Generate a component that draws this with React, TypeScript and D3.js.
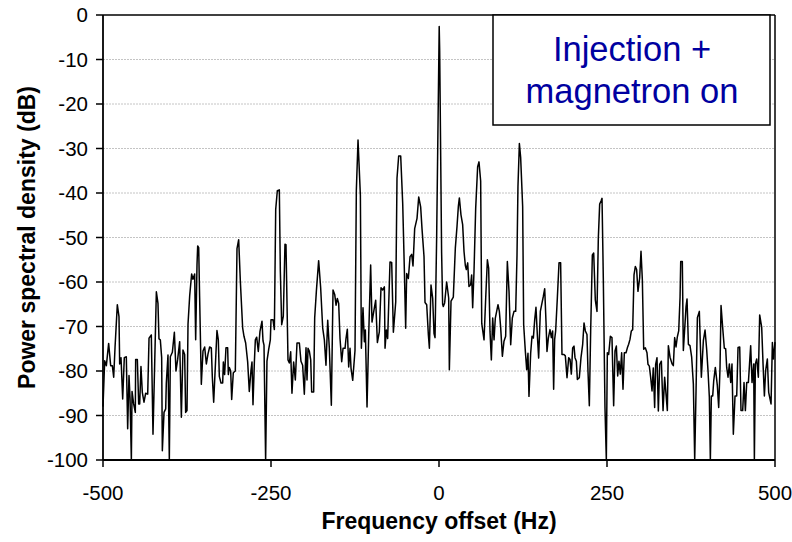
import React from "react";
import * as d3 from "d3";

const xTicks = [-500, -250, 0, 250, 500];
const yTicks = [0, -10, -20, -30, -40, -50, -60, -70, -80, -90, -100];
const legendLines = ["Injection +", "magnetron on"];
const xTitle = "Frequency offset (Hz)";
const yTitle = "Power spectral density (dB)";

// [frequency offset (Hz), power spectral density (dB)]
const spectrum: [number, number][] = [
  [-500, -88], [-497.5, -77.7], [-495, -78.8], [-491.6, -73.8], [-488.6, -78.8], [-486.1, -78.8], [-484.1, -81.4], [-482.1, -74.7],
  [-478.7, -65.1], [-476.2, -67.8], [-475.2, -78.4], [-473.2, -77], [-470.7, -86.3], [-468.3, -77], [-465.3, -76.8], [-463.3, -93],
  [-461.3, -81], [-459.8, -86], [-457.8, -100], [-456.8, -84.6], [-454.4, -87.4], [-451.9, -89.3], [-451.4, -77.4], [-448.9, -77.4],
  [-446.9, -87.4], [-445.4, -87.4], [-443.5, -79], [-441.5, -84.8], [-439, -87], [-436.5, -85], [-433.5, -85.2], [-431.5, -72.6],
  [-428.1, -71.9], [-425.6, -94.2], [-423.1, -78.4], [-420.6, -62.2], [-418.2, -64.8], [-416.7, -72.8], [-414.7, -73], [-412.7, -77],
  [-411.7, -97.9], [-409.2, -89.3], [-406.7, -88.5], [-405.8, -82.8], [-403.3, -76.4], [-401.3, -100], [-399.8, -76.8], [-396.8, -75.8],
  [-393.8, -71.3], [-391.4, -80], [-388.9, -77.4], [-385.9, -73.4], [-383.4, -90.4], [-381, -75.3], [-378.5, -76.3], [-377, -89.3],
  [-375, -88.9], [-373.5, -69.5], [-371, -63.1], [-368.1, -58.2], [-366.1, -59.4], [-363.6, -58.2], [-362.1, -73], [-360.1, -56],
  [-359.1, -51.9], [-357.6, -52.3], [-356.2, -63.5], [-353.7, -83], [-351.2, -75.5], [-348.7, -74.6], [-346.2, -78.4], [-343.8, -76.2],
  [-341.3, -74.6], [-338.8, -74.8], [-337.3, -81.4], [-335.3, -87],
  [-330.4, -70.9], [-328.4, -73], [-326.9, -81.2], [-324.4, -82.7], [-321.9, -82.7], [-320.9, -78], [-319, -80.8], [-317, -74.8],
  [-314.5, -74.8], [-313.5, -80.8], [-312, -79.2], [-310, -80], [-308.5, -86.4], [-306.1, -80.4], [-303.1, -80], [-300.6, -52.5],
  [-298.1, -50.5], [-295.6, -59.9], [-292.2, -70.3], [-290.2, -72.2], [-287.7, -73.7], [-284.7, -78], [-282.3, -84.6], [-279.8, -79.9],
  [-278.3, -78], [-276.8, -87.6], [-274.8, -78.2], [-273.3, -73], [-271.3, -72.4], [-268.9, -75.6], [-266.4, -71.1], [-263.4, -68.8],
  [-261.9, -73.2], [-260.4, -74.2], [-258, -100], [-256, -77.8], [-253.5, -75.2], [-251, -73], [-250, -68.5], [-247, -68.5],
  [-245, -70.7], [-243, -43.7], [-240.6, -39.5], [-237.6, -39.3], [-236.1, -57.6], [-234.1, -69.6], [-231.7, -67.7], [-229.2, -51.5],
  [-227.7, -51.6], [-224.7, -77.5], [-222.7, -78.2], [-220.7, -75.7], [-218.8, -85], [-216.3, -78], [-213.8, -82], [-211.3, -73.7],
  [-207.8, -73.7], [-205.4, -77.8], [-202.9, -78.7], [-200.4, -85.2], [-197.9, -74.8], [-196.4, -82], [-194.9, -74.9], [-192.9, -75.6],
  [-190.9, -77.5], [-189.5, -84.7], [-186.5, -84.7], [-185, -68.1], [-182.5, -62.1], [-179.1, -55.2], [-176.1, -61.3], [-173.1, -70.3],
  [-170.6, -73], [-168.2, -78.7],
  [-165.6, -68.6], [-163.2, -74.9], [-160.2, -87.7], [-157.7, -61.8], [-155.2, -62.8], [-153.2, -65.2], [-151.3, -63.7], [-149.3, -64.8],
  [-147.3, -72.7], [-144.8, -77.9], [-142.8, -74.9], [-139.8, -74.9], [-138.4, -72.7], [-136.4, -70.6], [-134.4, -79.1], [-132.4, -74.9],
  [-130.9, -79.4], [-128.4, -82.1], [-125, -75.4], [-123, -39.4], [-120.5, -28.1], [-117, -40.5], [-115.5, -74.9], [-113.1, -65.8],
  [-111.1, -73.4], [-109.6, -70.8], [-107.1, -88.1], [-104.6, -71.9], [-101.7, -56.2], [-99.7, -69], [-97.2, -66.7], [-94.2, -64.1],
  [-91.7, -73.6], [-88.8, -71.2], [-86.3, -61.3], [-83.8, -61.8], [-81.3, -61.1], [-80.3, -74.9], [-78.3, -70.8], [-76.4, -72.7],
  [-72.9, -55.5], [-70.4, -55.6], [-67.9, -71.3], [-64.4, -64.5], [-62.5, -36.7], [-60, -31.7], [-57, -31.7], [-54, -42.4],
  [-51.6, -57], [-49.6, -70.4], [-48.1, -58.1], [-45.6, -59.2], [-43.1, -54.3], [-40.6, -53.8], [-38.7, -56.4], [-36.2, -48],
  [-32.7, -45.7], [-30.2, -40.9], [-27.3, -43.1], [-25.3, -48], [-22.3, -54.3], [-20.8, -64.6], [-18.3, -65.1], [-15.8, -71.9],
  [-14.3, -74.9], [-11.9, -60.7], [-9.4, -63.7], [-7.4, -71.6], [-5.9, -72.5], [-3.5, -50], [0.3, -2.6], [1, -8],
  [3.9, -53.5], [5.4, -65],
  [6.4, -65.5], [8.4, -64.7], [11.4, -60], [14.4, -63.6], [15.4, -79.7], [17.9, -64.3], [21.3, -63.4], [24.3, -52.4],
  [26.8, -47.5], [28.8, -43], [30.3, -41.1], [32.7, -44.9], [35.2, -47.1], [37.2, -53.1], [39.2, -56.3], [40.7, -57.2],
  [42.7, -55.7], [44.6, -61], [47.1, -60.6], [48.6, -58.4], [50.1, -65.8], [52.1, -57.6], [54.6, -43.4], [57.5, -34.1],
  [59.5, -33], [62, -37.3], [63.6, -69.3], [67, -73], [69.5, -63.6], [72, -55], [73.9, -56.9], [75.9, -71.1],
  [77.9, -77.5], [79.9, -68.1], [81.9, -73], [83.8, -68.1], [85.8, -66.6], [87.8, -65.1], [89.8, -66.6], [91.8, -70.3],
  [94.3, -76.7], [96.7, -73.3], [99.2, -72.2], [101.7, -55.4], [104.2, -62.1], [106.7, -74.1], [109.1, -68.1], [111.6, -66.6],
  [114.1, -66.6], [116.1, -53.9], [117.5, -38.6], [119.6, -28.9], [121.5, -32], [124.5, -43.1], [126, -69.6], [128.5, -75.6],
  [130.5, -79.7], [132.4, -76], [133.9, -85.7], [136.4, -76], [138.4, -72.2], [140.4, -72.6], [142.4, -68.5], [144.3, -65.7],
  [146.3, -71.8], [148.3, -77.1], [150.8, -66.6], [153.3, -64.7], [155.3, -63.2], [157.3, -61.5], [159.2, -68.8], [160.7, -75.6],
  [162.7, -72.6], [165.2, -70.7],
  [167.2, -72.5], [169.1, -71], [170.6, -84.1], [172.1, -72.9], [173.6, -71], [176.1, -63.6], [178.6, -55.7], [181, -55.7],
  [183, -76.3], [186, -76.3], [188, -76.6], [190.5, -81.5], [193, -77], [195, -77.4], [196.9, -80.7], [198.9, -74.8],
  [200.9, -74.4], [202.4, -77], [204.4, -77.8], [205.9, -81.9], [208.8, -81.5], [211.3, -77], [213.8, -74], [215.8, -69.2],
  [217.8, -71], [220.2, -71.8], [221.7, -80], [223.7, -87.8], [225.7, -71], [228.2, -53.9], [230.2, -53.5], [232.6, -64],
  [235.1, -66.6], [237.1, -50.1], [239.1, -42.5], [241.1, -41.8], [242.6, -41.2], [244.5, -59.1], [247, -88.2], [249, -100],
  [250.5, -75.9], [252.5, -76.3], [255, -72.2], [257.4, -72.5], [259.9, -87.8], [261.9, -75.5], [263.9, -74.4], [265.9, -81.1],
  [267.8, -77.8], [269.8, -80.7], [271.8, -75.9], [273.8, -84.1], [275.8, -75.9], [278.3, -75.9], [280.3, -74.8], [282.2, -74],
  [284.2, -72.9], [286.2, -71], [288.2, -70.7], [290.2, -58.4], [292.2, -56.5], [294.1, -57.2], [296.1, -62.1], [298.6, -59.1],
  [300.6, -53.1], [302.6, -59.5], [304.6, -75.1], [307, -74.8], [309.5, -75.9], [311, -78.5], [313, -78.9], [315, -81.5],
  [317, -84.5], [318.9, -79.3], [320.9, -88.2], [322.4, -78.5], [324.4, -77], [326.4, -89], [328.4, -78.5], [330.9, -77.8],
  [333.4, -88.9], [335.8, -81.4], [339.8, -88.9], [341.3, -74.3], [343.8, -76.9], [346.8, -78.4], [348.7, -78.8], [350.7, -72.5],
  [352.7, -74.6], [354.7, -72.3], [356.7, -71], [358.7, -63.5], [359.7, -55.4], [362.1, -55.4], [363.6, -75.4], [365.6, -70.6],
  [367.6, -65.6], [369.1, -63.8], [371.1, -74], [373.5, -74.3], [376, -76.9], [378.5, -82.9], [380.5, -100], [382.5, -84.4],
  [384.5, -68], [387.4, -66.6], [390.4, -81.4], [393.4, -73.2], [395.9, -70.8], [398.3, -75.1], [400.3, -79.9], [402.3, -85.9],
  [403.8, -100], [405.3, -85.6], [407.3, -85.6], [408.8, -82.2], [411.2, -79.2], [414.2, -83.3], [416.2, -88.2], [418.2, -79.2],
  [419.7, -65.3], [422.1, -70.2], [424.6, -74.9], [426.6, -75], [428.1, -79.2], [430.1, -81.4], [432.1, -78.4], [434.1, -82.6],
  [436, -78.4], [438, -94.2], [440.5, -85.6], [443, -85.6], [445, -74.7], [447.5, -74.6], [449.4, -88.9], [451.9, -88.9],
  [453.9, -82.6], [455.9, -88.9], [457.9, -82.6], [460.4, -82.6], [463.8, -74.3], [465.8, -82.6], [468.3, -78.4], [469.3, -100],
  [470.8, -78.4], [472.8, -77.3], [475.2, -81.4], [477.2, -67.4], [480.2, -70.2], [482.2, -78.4], [484.2, -85.6], [486.1, -79.9],
  [488.6, -77.3], [490.6, -84.8], [494.1, -87.4], [496.1, -73.6], [497.6, -77.3], [500, -73.5],
];

const W = 792;
const H = 542;
const left = 103;
const right = 775;
const top = 15;
const bottom = 460;

export default function App() {
  const x = d3.scaleLinear().domain([-500, 500]).range([left, right]);
  const y = d3.scaleLinear().domain([-100, 0]).range([bottom, top]);
  const line = d3
    .line<[number, number]>()
    .x((d) => x(d[0]))
    .y((d) => y(d[1]));
  const font = "'Liberation Sans', Arial, sans-serif";

  return (
    <svg
      width={W}
      height={H}
      style={{ position: "absolute", left: 0, top: 0, background: "#fff" }}
      fontFamily={font}
    >
      <rect x={0} y={0} width={W} height={H} fill="#fff" />
      {yTicks
        .filter((t) => t !== 0 && t !== -100)
        .map((t) => (
          <line
            key={"g" + t}
            x1={left}
            x2={right}
            y1={y(t)}
            y2={y(t)}
            stroke="#c4c4c4"
            strokeWidth={1}
            strokeDasharray="2,1"
          />
        ))}
      {/* frame */}
      <line x1={left} x2={right} y1={top} y2={top} stroke="#000" strokeWidth={1.5} />
      <line x1={right} x2={right} y1={top} y2={bottom} stroke="#000" strokeWidth={1.5} />
      <path d={line(spectrum) || ""} fill="none" stroke="#000" strokeWidth={1.5} strokeLinejoin="round" />
      {/* axes */}
      <line x1={left} x2={left} y1={top} y2={bottom} stroke="#000" strokeWidth={1.8} />
      <line x1={left} x2={right} y1={bottom} y2={bottom} stroke="#000" strokeWidth={1.8} />
      {yTicks.map((t) => (
        <g key={"y" + t}>
          <line x1={left - 7} x2={left} y1={y(t)} y2={y(t)} stroke="#000" strokeWidth={1.5} />
          <text x={left - 15} y={y(t)} dy="0.36em" textAnchor="end" fontSize={20.5} fill="#000">
            {t}
          </text>
        </g>
      ))}
      {xTicks.map((t) => (
        <g key={"x" + t}>
          <line x1={x(t)} x2={x(t)} y1={bottom} y2={bottom + 7} stroke="#000" strokeWidth={1.5} />
          <text x={x(t)} y={bottom + 40} textAnchor="middle" fontSize={20.5} fill="#000">
            {t}
          </text>
        </g>
      ))}
      <text x={(left + right) / 2} y={529} textAnchor="middle" fontSize={23} fontWeight="bold" fill="#000">
        {xTitle}
      </text>
      <text
        transform={`translate(35, ${(top + bottom) / 2}) rotate(-90)`}
        textAnchor="middle"
        fontSize={23}
        fontWeight="bold"
        fill="#000"
      >
        {yTitle}
      </text>
      {/* legend box */}
      <rect x={493} y={top} width={277} height={110} fill="#fff" stroke="#000" strokeWidth={1.5} />
      {legendLines.map((s, i) => (
        <text key={s} x={632} y={61 + i * 42} textAnchor="middle" fontSize={34.5} fill="#0000a0">
          {s}
        </text>
      ))}
    </svg>
  );
}
